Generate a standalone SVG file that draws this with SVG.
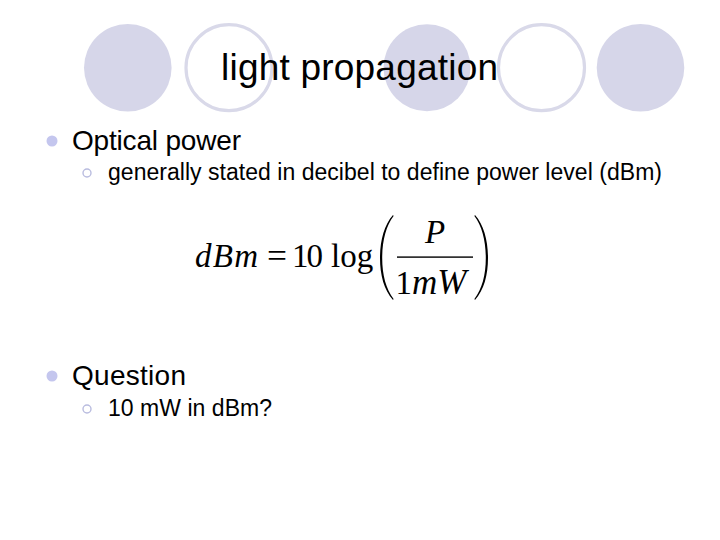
<svg xmlns="http://www.w3.org/2000/svg" width="720" height="540" viewBox="0 0 720 540">
<style>
.f{fill:#d6d6e9}
.o{fill:#fff;stroke:#d9d9e9;stroke-width:3.2}
.t{font-family:"Liberation Sans",Arial,sans-serif;fill:#000}
.m{font-family:"Liberation Serif","Times New Roman",serif;fill:#000;font-size:33px}
.i{font-style:italic}
.b1{fill:#c4c6ee}
.b2{fill:none;stroke:#b9bcdf;stroke-width:1.4}
</style>
<rect width="720" height="540" fill="#fff"/>
<g id="decor">
<circle class="f" cx="127.8" cy="67.7" r="43.8"/>
<circle class="o" cx="229" cy="67.7" r="43"/>
<circle class="f" cx="427" cy="67.7" r="43.5"/>
<circle class="o" cx="541.5" cy="67.7" r="43"/>
<circle class="f" cx="640.5" cy="67.7" r="43.8"/>
</g>
<g id="title"><text class="t" x="221" y="80" font-size="37" textLength="277" lengthAdjust="spacing">light propagation</text></g>
<g id="body">
<circle class="b1" cx="52" cy="141" r="5.5"/>
<text class="t" x="72" y="150" font-size="28" textLength="169" lengthAdjust="spacing">Optical power</text>
<circle class="b2" cx="87" cy="173" r="4"/>
<text class="t" x="108" y="180" font-size="23" textLength="554" lengthAdjust="spacing">generally stated in decibel to define power level (dBm)</text>
<circle class="b1" cx="52" cy="376" r="5.5"/>
<text class="t" x="72" y="385" font-size="28" textLength="114" lengthAdjust="spacing">Question</text>
<circle class="b2" cx="87" cy="409" r="4"/>
<text class="t" x="108" y="416" font-size="23" textLength="164" lengthAdjust="spacing">10 mW in dBm?</text>
</g>
<g id="formula">
<text class="m i" x="195" y="267" textLength="63" lengthAdjust="spacing">dBm</text>
<text class="m" x="267" y="267" textLength="20" lengthAdjust="spacingAndGlyphs">=</text>
<text class="m" x="292" y="267" textLength="31" lengthAdjust="spacing">10</text>
<text class="m" x="331" y="267">log</text>
<path d="M393 215C384 225 380 241 380 258C380 275 384 290 393 300L393.6 299C386 289 382.2 275 382.2 258C382.2 241 386 226 393.6 216Z"/>
<path d="M475 215C484 225 488 241 488 258C488 275 484 290 475 300L474.4 299C482 289 485.8 275 485.8 258C485.8 241 482 226 474.4 216Z"/>
<text class="m i" x="425" y="243">P</text>
<rect x="397" y="256.4" width="76" height="1.4"/>
<text class="m" x="395.5" y="294">1</text>
<text class="m i" x="412" y="294" style="font-size:35px">mW</text>
</g>
</svg>
